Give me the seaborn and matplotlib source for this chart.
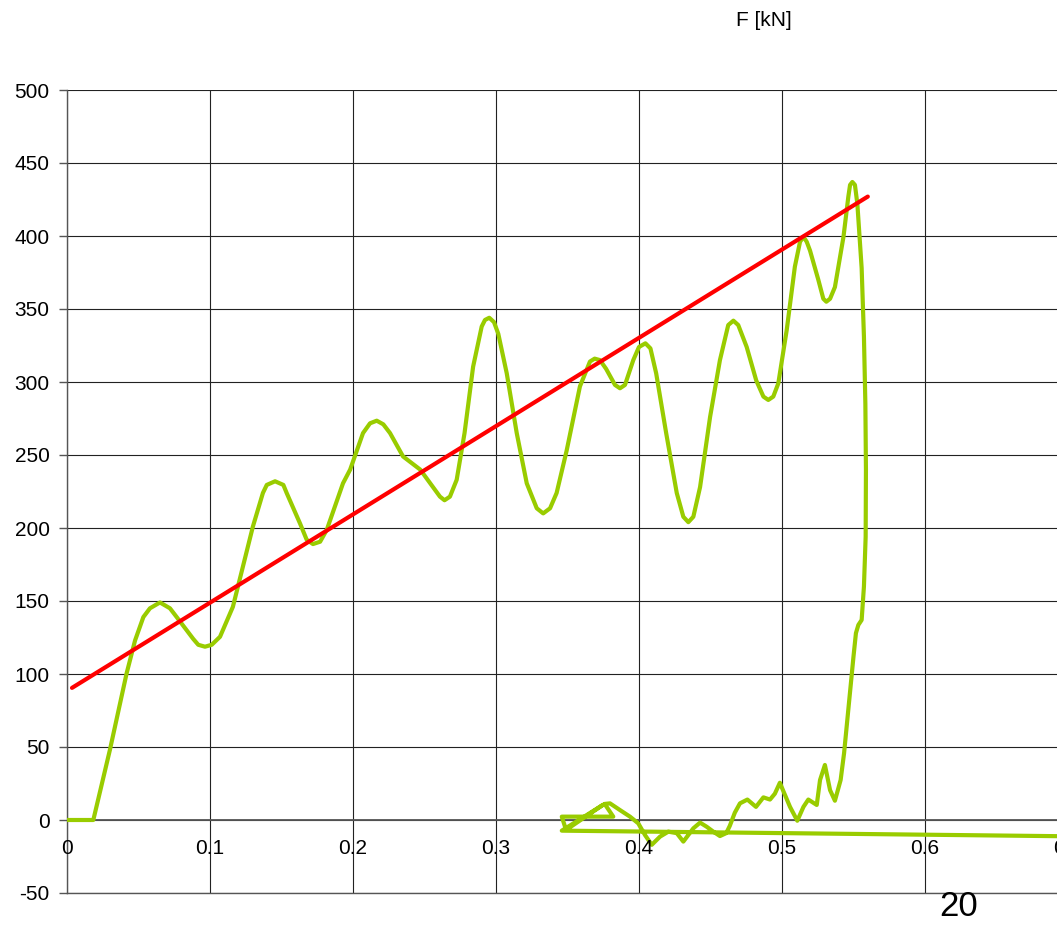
import numpy as np
import pandas as pd
import matplotlib
matplotlib.use("Agg")
import matplotlib.pyplot as plt
import seaborn as sns

# ---- data ----
load_x = [0, 0.0184, 0.030, 0.0417, 0.0476, 0.0534, 0.058, 0.065, 0.072, 0.0767,
          0.0883, 0.0918, 0.0965, 0.1012, 0.107, 0.116, 0.123, 0.130, 0.137, 0.1397,
          0.1455, 0.1513, 0.1536, 0.163, 0.1676, 0.172, 0.177, 0.1816, 0.193, 0.198,
          0.207, 0.2119, 0.2166, 0.2212, 0.2259, 0.235, 0.247, 0.256, 0.2608, 0.264,
          0.2678, 0.2725, 0.278, 0.284, 0.290, 0.2923, 0.2953, 0.2986, 0.3016, 0.3075,
          0.3145, 0.3215, 0.3285, 0.333, 0.3378, 0.3424, 0.3494, 0.3587, 0.3657, 0.369,
          0.3727, 0.377, 0.3832, 0.3867, 0.3902, 0.396, 0.400, 0.4045, 0.408, 0.412,
          0.419, 0.4264, 0.431, 0.4345, 0.438, 0.4427, 0.4497, 0.4566, 0.4624, 0.466,
          0.4694, 0.4753, 0.482, 0.487, 0.4904, 0.4939, 0.4974, 0.5033, 0.509, 0.5126,
          0.515, 0.5173, 0.5196, 0.5254, 0.5289, 0.531, 0.5336, 0.537, 0.543, 0.5464,
          0.5476, 0.5492, 0.5510]
load_y = [0, 0, 48, 100.5, 123, 139, 145, 149, 145, 139,
          124, 120, 118.7, 120, 125.5, 146, 173.5, 201, 224, 229.5,
          232, 229.5, 224, 203, 192, 189, 190.6, 198.6, 230.6, 240,
          265, 271.7, 273.5, 271, 265, 249, 240, 228, 221.5, 219,
          221.5, 233, 265, 310.5, 338, 342.5, 344, 341, 333, 306,
          265, 230.6, 213.5, 210, 213.5, 224, 253, 297, 314, 316,
          315, 309, 298, 295.7, 298, 315, 324, 326.5, 323, 306,
          265, 224, 207.7, 204, 207.7, 228, 276, 315, 339, 342,
          339, 324, 301, 290, 287.7, 290, 299, 335.6, 379, 396,
          399.5, 396, 390, 370, 357, 355, 357, 365, 399.5, 427,
          435, 437, 435]

unload_x = [0.5527, 0.5557, 0.5573, 0.5583, 0.5587, 0.5585, 0.5573, 0.5557, 0.5534, 0.5517,
            0.550, 0.5475, 0.5452, 0.5434, 0.541, 0.537, 0.5336, 0.530, 0.5266, 0.5243,
            0.5184, 0.515, 0.5107, 0.5056, 0.4985, 0.495, 0.4916, 0.487, 0.4818, 0.4758,
            0.4706, 0.467, 0.4635, 0.461, 0.4566, 0.452, 0.4473, 0.4427, 0.438, 0.431,
            0.4264, 0.4205, 0.4147, 0.4089, 0.4042, 0.3995, 0.3937, 0.3867, 0.3797, 0.376,
            0.382, 0.346, 0.349, 0.375, 0.346, 0.75]
unload_y = [422, 378, 331, 285, 240, 194, 160, 137, 133.6, 128,
            112, 86.8, 64, 45.7, 27.4, 13.2, 20.5, 37.7, 27.4, 10.3,
            14, 9, -0.5, 9, 25.5, 18, 14, 15.5, 9, 14,
            11.4, 5, -4, -9, -11, -8, -4.6, -1.8, -5.7, -14.8,
            -9, -8, -11.4, -17, -10.3, -2.3, 2.3, 6.8, 11.4, 11,
            2.3, 2.3, -6.8, 10.5, -7.3, -11.7]

trend_x = [0.0035, 0.560]
trend_y = [90.5, 427]

x_ticks = [0, 0.1, 0.2, 0.3, 0.4, 0.5, 0.6, 0.7]
x_tick_labels = ["0", "0.1", "0.2", "0.3", "0.4", "0.5", "0.6", "0.7"]
y_ticks = [-50, 0, 50, 100, 150, 200, 250, 300, 350, 400, 450, 500]
y_tick_labels = ["-50", "0", "50", "100", "150", "200", "250", "300", "350", "400", "450", "500"]

title_text = "F [kN]"
page_text = "20"

# ---- plotting ----
sns.set_style("white")
plt.rcParams['font.family'] = ['Liberation Sans', 'DejaVu Sans']
plt.rcParams['text.color'] = 'black'
plt.rcParams['ytick.color'] = 'black'
plt.rcParams['xtick.color'] = 'black'

curve = pd.DataFrame({"x": load_x + unload_x, "y": load_y + unload_y})
trend = pd.DataFrame({"x": trend_x, "y": trend_y})

W, H = 1057, 925
fig = plt.figure(figsize=(W / 100, H / 100), dpi=100)
ax = fig.add_axes([67 / W, (H - 893) / H, (1068 - 67) / W, (893 - 90) / H])

sns.lineplot(data=curve, x="x", y="y", sort=False, estimator=None,
             color="#99CC00", linewidth=3.0, ax=ax, zorder=3)
ax.lines[-1].set_solid_joinstyle("round")
ax.lines[-1].set_solid_capstyle("round")
sns.lineplot(data=trend, x="x", y="y", sort=False, estimator=None,
             color="#FF0000", linewidth=3.0, ax=ax, zorder=4)

ax.set_xlim(0, 0.7)
ax.set_ylim(-50, 500)
ax.set_xticks(x_ticks)
ax.set_yticks(y_ticks)
ax.set_yticklabels(y_tick_labels, fontsize=15, color="black")
ax.set_xticklabels([])
ax.set_xlabel("")
ax.set_ylabel("")

ax.grid(True, color="#222222", linewidth=0.8)
ax.set_axisbelow(True)
ax.axhline(0, color="#555555", linewidth=1.3, zorder=2)

for s in ["top", "right"]:
    ax.spines[s].set_visible(False)
ax.spines["left"].set_color("#555555")
ax.spines["left"].set_linewidth(1.0)
ax.spines["bottom"].set_color("#555555")
ax.spines["bottom"].set_linewidth(1.0)

ax.tick_params(axis="y", which="major", direction="out", length=5.5, width=1.0,
               color="#555555", pad=7, left=True)
ax.tick_params(axis="x", which="major", length=0, bottom=False)

for xv, lab in zip(x_ticks, x_tick_labels):
    ax.annotate(lab, (xv, 0), xytext=(0, -13.5), textcoords="offset points",
                ha="center", va="top", fontsize=15, color="black",
                annotation_clip=False)

fig.text(764 / W, 1 - 20 / H, title_text, ha="center", va="center", fontsize=15,
         color="black")
fig.text(959 / W, 1 - 907 / H, page_text, ha="center", va="center", fontsize=25,
         color="black")

fig.savefig("out.png", dpi=100)
